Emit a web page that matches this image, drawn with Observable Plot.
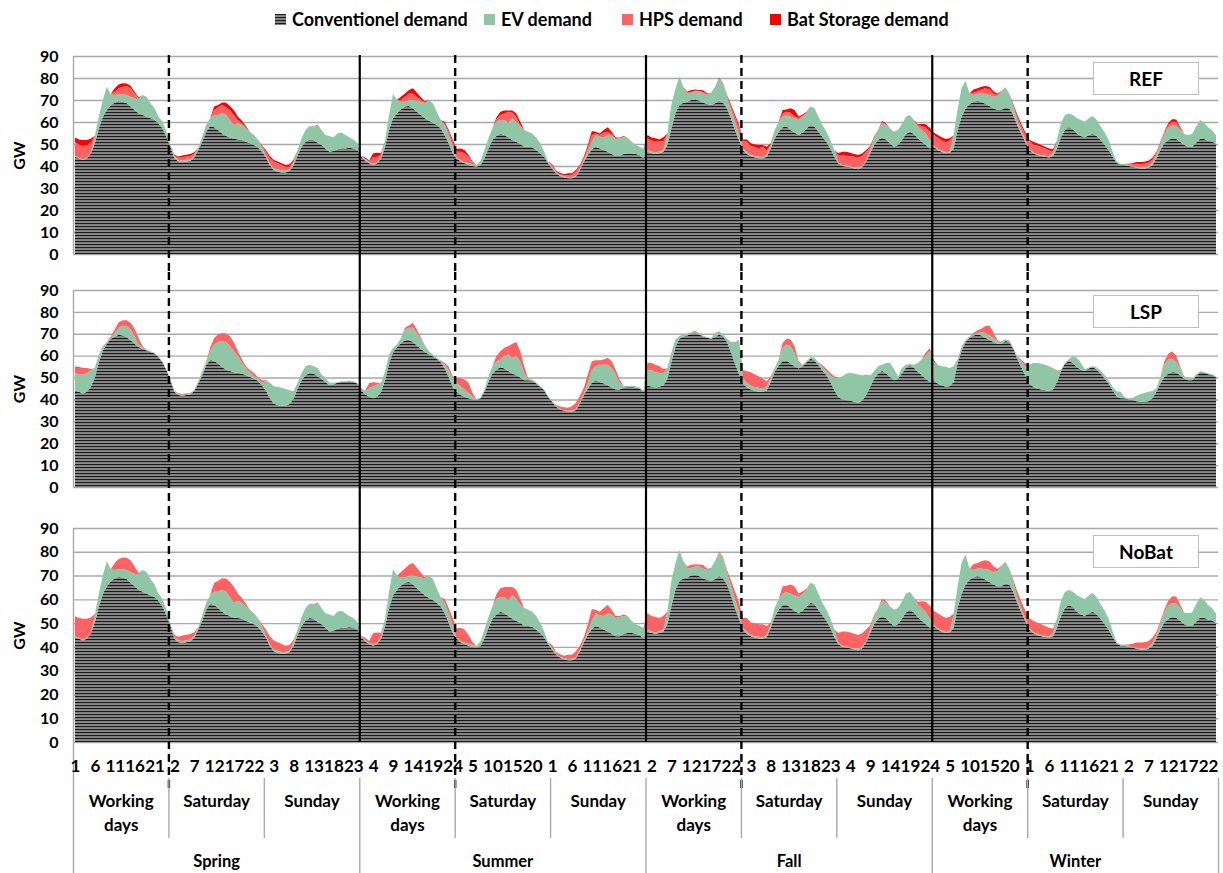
<!DOCTYPE html>
<html>
<head>
<meta charset="utf-8">
<script src="https://cdn.jsdelivr.net/npm/d3@7"></script>
<script src="https://cdn.jsdelivr.net/npm/@observablehq/plot@0.6"></script>
<style>
  body { margin:0; width:1223px; height:873px; position:relative; background:#fff; overflow:hidden;
         font-family: Lato, "Open Sans", "DejaVu Sans", sans-serif; }
  .panel { position:absolute; left:0; }
  .leg { position:absolute; top:8px; font-weight:bold; font-size:18px; color:#000; display:flex; align-items:center; white-space:nowrap; }
  .sw { width:11px; height:11px; margin-right:6px; display:inline-block; }
  .tag { position:absolute; left:1093px; width:106px; height:33px; box-sizing:border-box; border:1.3px solid #bfbfbf;
         background:#fff; font-weight:bold; font-size:19px; display:flex; align-items:center; justify-content:center; }
</style>
</head>
<body>
<svg width="0" height="0" style="position:absolute">
  <defs>
    <pattern id="hatch" patternUnits="userSpaceOnUse" width="8" height="3">
      <rect width="8" height="3" fill="#8a8a8a"></rect>
      <rect width="8" height="1.1" fill="#1a1a1a"></rect>
    </pattern>
  </defs>
</svg>
<div id="legend"></div>
<div id="p1" class="panel" style="top:40px"></div>
<div id="p2" class="panel" style="top:272px"></div>
<div id="p3" class="panel" style="top:507px"></div>
<div id="tags"></div>
<script>
// ---------------- DATA (GW, hourly, 12 representative days) ----------------
const seasons = ["Spring", "Summer", "Fall", "Winter"];
const dayTypes = ["Working days", "Saturday", "Sunday"];
const scenarios = ["REF", "LSP", "NoBat"];
const seriesNames = ["Conventionel demand", "EV demand", "HPS demand", "Bat Storage demand"];
const yTicks = [0, 10, 20, 30, 40, 50, 60, 70, 80, 90];

const conventional = [
  44.2,43.5,42.7,43.5,45.8,50.3,57,62.4,65.5,67.7,68.8,69.5,69.2,68.5,67,65.5,64,63.2,62.4,61.7,61,59.4,57,53.3,
  48.8,43.5,42,41.7,42,42.3,43.9,47.3,51,55.6,58.2,57.6,56.4,54.8,53.6,53,52.4,52.1,51.8,51,50.3,49.5,48.5,46.5,
  44.2,40.5,38.2,37.4,37.1,37.1,37.9,40.5,45,48.8,51,52.1,51.8,50.6,49.5,48,46.5,46.8,47.6,48,48,48.3,48,47.3,
  44.2,42.4,41.2,40.5,41.2,43.5,48.8,56.4,61.7,64,65.8,67,67.3,66.2,64.7,63.2,61.7,60.6,59.7,58.6,57,54.1,50.3,45.8,
  43.5,42,41.2,40.5,40,39.7,40.5,43.5,48,51.8,53.6,54.8,54.1,53,51.8,51,50,48.8,48.8,48.5,47.3,45.8,44.2,41.2,
  38.9,36.7,35.5,34.8,34.4,34.4,35.2,38.2,42,45,47.6,48.8,48,47.3,46.5,45.5,44.5,44.5,45.5,45.8,45.8,45.5,45,43.5,
  46.5,45.8,45.5,45.8,46.5,49.5,57,63.9,67.7,68.8,69.2,70,70.3,69.7,68.8,68.2,67.7,68.5,69.7,68.8,66.2,61.7,56.4,51.8,
  47.3,45.5,44.5,43.9,43.5,43.5,44.2,48,52.6,55.6,57.6,57.9,56.4,55.2,54.1,55.2,57,58.6,57.9,55.6,53.3,51,48,44.2,
  41.2,40,39.7,39.4,38.9,38.5,39.4,42,45.8,49.5,51.8,53,52.1,50.3,48.8,49.5,51.8,54.5,55.6,54.5,52.6,51,49.5,48,
  48.8,47.3,46.5,45.8,46,48,56.4,62.4,66.2,68.2,69.2,69.7,69.2,68.2,67.3,66.2,65.5,65.5,66.7,66.2,63.2,58.6,54.8,51,
  47.3,45.8,45,44.5,44.2,43.9,44.5,48,53,56.4,57.6,56.7,54.8,53.6,53,54.1,54.8,53.6,51.8,49.5,47.3,44.2,41.5,40.5,
  40.5,40,39.7,39.2,38.9,38.9,39.2,40.5,43.5,47.3,50.3,51.8,52.6,52.3,51,49.5,48.8,48.8,50.6,52.4,52.3,51.5,51.2,50
];

const evREF = [
  0.3,0.3,0.3,0.3,0.3,3,5.4,7.6,10.5,4.9,3.5,3.1,3.4,3.8,4.5,5.3,6.3,9.1,9.1,6.8,5.2,3,3.1,2.3,
  0.8,0.8,0.8,0.8,0.8,0.8,0.8,1,2.3,3,3.5,5.6,6.8,9.2,9.6,7.9,6.2,7.3,6.8,6,5.3,4.6,3.6,2.3,
  0.8,0.7,0.7,1.1,0.8,0.8,0.6,1.5,2.3,3.8,5.4,6.1,6.1,7.6,6.9,6.1,7.1,6.2,7.2,7.2,6.1,4.7,4.1,3.3,
  0.5,0.5,0.5,0.5,0.5,0.7,3,6.8,11,6,3.4,2.2,2.7,3.8,5,6,7.1,9.4,8.8,6.1,3.9,4.5,3.8,3,
  0.5,0.5,0.5,0.8,0.9,0.8,1.9,3.8,4.6,5.2,6.5,6.1,6.8,6.7,9.9,9.1,7.9,7.6,6.8,6.3,5.7,4.5,2.3,0.8,
  0.8,0.3,0.3,0.5,0.5,0.6,0.3,0.7,0.7,1.5,3.4,5.3,5.3,5.7,7.6,8.1,7.6,8.1,7.5,7.2,5.2,4,3.8,4.5,
  0.8,0.8,0.6,0.8,0.8,5.3,10.7,11,13,7.2,3.8,3.3,3.5,4.1,4.2,4.1,5.6,7.5,10.1,8.8,5.3,3.8,3.7,3,
  0.7,1,0.5,0.6,0.8,0.5,1,1.5,3.8,4.5,4.8,5.3,6,6.5,6.8,7.2,6.9,8.4,8.3,6.8,5.3,4.6,3.8,3.1,
  0.5,0.5,0.5,0.5,0.5,0.9,0.6,0.5,1.5,3.1,4.6,6.4,6.5,6.4,6.8,6.9,7.3,7.9,7.6,6.4,5.3,5.4,5.3,3.8,
  0.5,0.5,0.5,0.5,0.5,5.5,9,13,12.6,4.8,3.1,3.3,3.8,4.5,5,5.3,6.3,8.3,9.1,6.8,3.8,2.3,1.6,1.1,
  0.5,0.5,0.5,0.5,0.5,0.5,1.4,3.8,6.4,6.8,6.3,6.5,6.9,7.3,7.1,7.6,7.9,7.3,6.1,5.7,4.5,2.3,0.5,0.5,
  0.5,0.5,0.3,0.5,0.5,0.5,0.8,1,1.5,2.5,4.3,5.7,5.9,5.9,5.4,5,5.3,5.7,7.3,8.5,7.5,6.1,5,4
];

const hpsREF = [
  6.4,6,6.1,5.6,4.5,0.5,0,0,0,0,1.5,2.7,3.4,4,3.8,2.2,0.5,0,0,0,0,0,0,0,
  0,0.5,1,1.5,1.5,1.5,1,0,0,0,0,2.3,3.5,3.7,3.5,4.6,4.6,1.5,0.8,0.5,0,0,0,0.5,
  1.5,2.3,3.1,2.7,2.6,1.8,1.2,0.3,0,0,0,0,0,0.3,0,0,0,0,0,0,0,0,0,0,
  0,0.5,0.5,3,2.5,1,0,0,0,0,0.8,2.3,3,3,1.8,1,0,0,0,0,0,0.6,1.5,2.2,
  2.5,4,4.1,2.9,0.6,0,0,0,0,0,1,2.3,3,5,2.5,2.3,0.7,0,0,0,0,0,0,0,
  0.7,0.5,0.5,0.5,1,1,2,1,0.8,2,3.1,0.7,0.8,2.1,1.5,0.9,0.5,0.2,0.4,0,0,0,0,0,
  5.3,5,5,4.5,4,0,0,0,0,0,0.3,0.5,0.5,0.3,0.6,0.3,0,0,0,0.3,0.5,1.5,2.3,3,
  3.6,4.5,4.1,4.1,3.7,4.8,1.7,0.5,0,0,1.5,1.5,1.8,1,0.8,0.5,0.3,0,0,0,0,0,0,0,
  3.3,4.5,4.5,4.6,4.8,4.5,4.5,4,1.2,0.5,0,0.5,0.5,0.3,0,0,0,0,0,0,0.6,1.8,2.7,3.8,
  4.8,5,4.7,4.5,5,0.5,0,0,0,0,1,1.2,1.8,2.6,2.5,1.5,0.5,0.3,0,0,0.7,1.5,1.8,2.3,
  3.9,3.5,3.8,3.6,3.3,2.6,0.7,0,0,0,0,0,0,0,0,0,0,0,0,0,0,0,0,0,
  0,0.3,0.8,1.3,1.5,1.6,1.5,1.5,0.8,0.5,0.5,1.2,1.6,1.8,0.8,0,0,0,0,0,0,0,0,0
];

const batREF = [
  2,2.3,2.7,2.4,1.8,0,0,0,0,0,1.5,1.7,1.6,1.2,1.1,0.8,0.3,0,0,0,0,0,0,0,
  0,0.3,0.5,0.8,0.8,0.8,0.5,0,0,0,0,1.5,1,1.2,2.1,1.8,2,1.5,1.2,0.6,0,0,0,0.3,
  0.8,1,0.7,0.8,0.7,0.8,1.1,0.7,0,0,0,0,0,0.3,0,0,0,0,0,0,0,0,0,0,
  0,0.5,0.3,1.8,1.8,0.6,0,0,0,0,1.5,1.5,1.5,2.3,1.8,1,0.5,0,0,0,0,0.9,0.8,1.1,
  1.2,1.5,1.5,0.8,0.4,0,0,0,0,0,1,1.5,1.3,0.5,1,1.5,1.5,0,0,0,0,0,0,0,
  0.5,0.3,0.6,0.5,0.8,0.7,0.7,0.6,0.7,1,1.8,0.8,0.7,1.3,2,1.1,0.4,0.2,0.2,0,0,0,0,0,
  1.5,1.4,1.5,1,1.8,0,0,0,0,0,0.5,0.7,0.5,0.5,0.8,0.3,0,0,0.3,0,0.3,1,1,1.2,
  0.5,1.1,1.2,1.2,1.5,0.7,1.9,0.3,0,0,1.6,1,2,2.7,0.8,0.5,0.3,0,0,0,0,0,0,0,
  0.8,1.5,1.8,1.5,1.3,1.1,1.2,0.8,0.5,0.3,0,0.5,0.3,0,0,0,0,0,0,0,0.5,1,1.5,1.8,
  1.1,1.3,1.4,1.5,1.1,0,0,0,0,0,1.5,1.1,1.2,1.1,1.2,1,0.5,0,0,0,0.5,1,1,1,
  0.4,1.2,1,0.9,0.8,1,1,0,0,0,0,0,0,0,0,0,0,0,0,0,0,0,0,0,
  0,0.2,0.5,0.8,0.9,0.9,0.9,0.8,0.5,0.5,0.5,0.8,1.2,1.1,0.5,0,0,0,0,0,0,0,0,0
];

const evLSP = [
  8,7.9,8.7,8.6,7.5,4.1,3.5,1.9,0.7,0.5,1.6,3.2,4.6,5,4.9,3.4,1.1,0.4,0.4,0.3,0.3,0.2,0.2,0.2,
  0.5,0.5,0.5,0.5,0.5,0.5,0.5,1,1.9,1.9,3.8,7.5,9.8,11.8,12.6,11.3,9.6,7.7,4.9,3.4,2.1,1.1,1.3,1.1,
  4.1,7.1,7.8,8.3,8.2,7.7,6.3,3.2,2.6,3.3,4.2,3.8,3.4,3.8,1.9,1.8,1.1,0.8,0.3,0.3,0.3,0.3,0.3,0.2,
  1,1.3,4,5.5,5.6,4.1,4.1,4.1,1.9,1.1,2.3,4.9,5.4,6.5,5.7,4.2,2.6,1.4,0.8,0.4,0.5,1.8,3.3,4,
  4.1,4,3.3,2.5,1.5,0.5,0.3,1,2.6,3.4,3.9,3.4,5.7,7.5,7.2,8.8,7.5,3.2,0.5,0.5,0.5,0.3,0.3,0.3,
  0.3,0.3,0.3,0.3,0.3,0.5,0.5,0.6,0.9,2.6,6,6.4,7.9,8.6,9.4,8.9,6.9,3.1,0.5,0.3,0.5,0.5,0.5,0.5,
  6.8,7.5,6.9,6.3,5.6,4.4,4.3,3.5,1.2,0.9,0.9,0.7,0.9,0.7,0.3,0.3,0.3,1.9,1.5,0.9,1.5,4.5,9.8,15,
  2.5,2.1,1.8,1.8,1.8,1.3,1.8,1.8,1.8,2.6,6,7.2,7.9,6.1,2.6,0.5,0.5,0.8,1.2,1.3,1.5,1.9,2.9,5.6,
  8.6,10.6,12.1,12.7,12.9,12.9,11.5,9.4,5.1,3.4,3.4,2.9,4.6,6.4,5.1,1,2.6,1.4,0.6,1.4,4.1,7.5,10.5,14,
  8.1,8.6,8.7,9.1,8.4,7.2,1.8,1.9,0.8,0.5,0.5,0.7,1.5,2.2,1.9,1.9,1.1,1.1,0.7,0.8,0.4,1.2,2.7,4.2,
  8.6,10.9,11.7,11.8,11.7,11.3,9.9,4.9,0.5,0.3,0.9,3.1,4.2,3.1,0.9,0.5,0.5,1,1.3,1.5,1.2,1.5,2.2,3,
  0.5,0.6,1,2.5,3.5,4,4.3,3.4,1.5,3,5.5,6.5,5.9,4.9,3.1,1.2,0.5,0.5,0.8,0.5,0.4,0.4,0.4,0.5
];

const hpsLSP = [
  2.5,3,2.7,2.3,0.6,0,0,0,0,0.5,1.5,2.6,2.4,2.7,3.1,3.4,3,0.6,0,0,0,0,0,0,
  0,0,0.3,0.3,0.3,0.3,0,0,0,0,1.6,3,3.5,3.8,3.9,4.6,3.9,2.2,1.5,0.8,1,1.5,0.5,1.2,
  0.5,0,0,0,0,0,0,0,0,0,0,0,0,0,0,0,0,0,0,0,0,0,0,0,
  0,0.3,2.3,1.9,0.8,0,0,0,0,0,0,0.8,1.1,2.2,1.5,0.8,0.3,0,0,0,0.3,0.8,1.5,0.8,
  2.2,3.8,4.6,4.6,1.5,0,0,0,0,0,2.3,3.8,3.8,3.8,6.5,6.4,4.5,3,0.3,0,0,0,0,0,
  0,0.5,1,1.3,1.5,2,2.8,2.8,2.4,3.8,3.9,2.7,2,2.3,3.1,3.1,2.2,1.5,0,0,0,0,0,0,
  3.6,3.3,3.5,3.1,1.8,0.3,0,0,0,0,0,0,0.3,0,0,0,0,0,0,0,0,0,0,0.5,
  3.5,5.3,6.1,5.7,5.3,4.6,2.3,0.8,0,0,2.3,2.6,3.1,3,0.8,0,0,0,0,0,0.8,1,1.2,0.8,
  0,0,0,0,0,0,0,0,0,0,0,0,0,0,0,0,0,0,0,0,0,0,0.9,0.8,
  0.5,0,0,0,0,0,0,0,0,0,0.7,1.2,1.6,3.1,4.6,2.6,0.5,0,0,0,0,0,0.8,1.3,
  0,0,0,0,0,0,0,0.3,0,0,0,0,0,0,0,0,0,0,0,0,0,0,0,0,
  0,0,0,0,0,0,0,0,0,0,1.5,2.6,3.1,2.2,0.8,0,0,0,0,0,0,0,0,0
];

const batLSP = [
  0.3,0.3,0.3,0,0,0,0,0,0,0,0,0,0,0,0,0,0,0,0,0,0,0,0,0,
  0,0,0,0,0,0,0,0,0,0,0,0,0,0,0,0,0,0,0,0,0,0,0,0,
  0,0,0,0,0,0,0,0,0,0,0,0,0,0,0,0,0,0,0,0,0,0,0,0,
  0,0,0,0,0,0,0,0,0,0,0,0,0,0,0,0,0,0,0,0,0,0,0,0,
  0,0,0,0,0,0,0,0,0,0,0,0,0,0,0,0,0,0,0,0,0,0,0,0,
  0,0,0,0,0,0,0,0,0,0,0,0,0,0,0,0,0,0,0,0,0,0,0,0,
  0,0,0,0,0,0,0,0,0,0,0,0,0,0,0,0,0,0,0,0,0,0,0,0,
  0,0,0,0,0,0,0,0,0,0,0,0,0,0,0,0,0,0,0,0,0,0,0,0,
  0,0,0,0,0,0,0,0,0,0,0,0,0,0,0,0,0,0,0,0,0,0,0.3,0.5,
  0.5,0,0,0,0,0,0,0,0,0,0,0,0,0,0,0,0,0,0,0,0,0,0,0,
  0,0,0,0,0,0,0,0,0,0,0,0,0,0,0,0,0,0,0,0,0,0,0,0,
  0,0,0,0,0,0,0,0,0,0,0,0,0.3,0.3,0,0,0,0,0,0,0,0,0,0
];

const evNoBat = evREF; // EV profile in the NoBat case reads the same as in REF

const hpsNoBat = [
  8.4,8.3,8.8,8,6.3,0.5,0,0,0,0,3,4.4,5,5.2,4.9,3,0.8,0,0,0,0,0,0,0,
  0,0.8,1.5,2.3,2.3,2.3,1.5,0,0,0,0,3.8,4.5,4.9,5.6,6.4,6.6,3,2,1.1,0,0,0,0.8,
  2.3,3.3,3.8,3.5,3.3,2.6,2.3,1,0,0,0,0,0,0.6,0,0,0,0,0,0,0,0,0,0,
  0,1,0.8,4.8,4.3,1.6,0,0,0,0,2.3,3.8,4.5,5.3,3.6,2,0.5,0,0,0,0,1.5,2.3,3.3,
  3.7,5.5,5.6,3.7,1,0,0,0,0,0,2,3.8,4.3,5.5,3.5,3.8,2.2,0,0,0,0,0,0,0,
  1.2,0.8,1.1,1,1.8,1.7,2.7,1.6,1.5,3,4.9,1.5,1.5,3.4,3.5,2,0.9,0.4,0.6,0,0,0,0,0,
  6.8,6.4,6.5,5.5,5.8,0,0,0,0,0,0.8,1.2,1,0.8,1.4,0.6,0,0,0.3,0.3,0.8,2.5,3.3,4.2,
  4.1,5.6,5.3,5.3,5.2,5.5,3.6,0.8,0,0,3.1,2.5,3.8,3.7,1.6,1,0.6,0,0,0,0,0,0,0,
  4.1,6,6.3,6.1,6.1,5.6,5.7,4.8,1.7,0.8,0,1,0.8,0.3,0,0,0,0,0,0,1.1,2.8,4.2,5.6,
  5.9,6.3,6.1,6,6.1,0.5,0,0,0,0,2.5,2.3,3,3.7,3.7,2.5,1,0.3,0,0,1.2,2.5,2.8,3.3,
  4.3,4.7,4.8,4.5,4.1,3.6,1.7,0,0,0,0,0,0,0,0,0,0,0,0,0,0,0,0,0,
  0,0.5,1.3,2.1,2.4,2.5,2.4,2.3,1.3,1,1,2,2.8,2.9,1.3,0,0,0,0,0,0,0,0,0
];

// ---------------- STYLE ----------------
const FONT = "Lato, 'Open Sans', 'DejaVu Sans', sans-serif";
const fills = ["url(#hatch)", "#8fc6a6", "#ff6262", "#ff0000"];
const gridColor = "#a9a9a9";

const nHours = seasons.length * dayTypes.length * 24;
for (const [n, a] of Object.entries({conventional, evREF, hpsREF, batREF, evLSP, hpsLSP, batLSP, hpsNoBat}))
  if (a.length !== nHours) throw new Error(n + " has " + a.length + " values");

// day / season structure
const days = seasons.flatMap((s, si) => dayTypes.map((d, di) => ({season: s, day: d, start: (si * dayTypes.length + di) * 24})));
const seasonStarts = seasons.map((s, si) => si * dayTypes.length * 24);
const seasonBounds = seasonStarts.slice(1);                       // solid lines
const weekendBounds = days.filter(d => d.day === "Saturday").map(d => d.start);   // dashed lines
const dayBounds = days.filter(d => d.day !== "Working days").map(d => d.start);   // table separators
const tableEdges = [...seasonStarts, nHours];
const hourTicks = d3.range(0, nHours, 5);

function rowsFor(cols) {
  const rows = [];
  cols.forEach(([name, arr]) => arr.forEach((v, i) => rows.push({pos: i + 0.5, series: name, value: v})));
  return rows;
}
const panelRows = {
  REF: rowsFor([[seriesNames[0], conventional], [seriesNames[1], evREF], [seriesNames[2], hpsREF], [seriesNames[3], batREF]]),
  LSP: rowsFor([[seriesNames[0], conventional], [seriesNames[1], evLSP], [seriesNames[2], hpsLSP], [seriesNames[3], batLSP]]),
  NoBat: rowsFor([[seriesNames[0], conventional], [seriesNames[1], evNoBat], [seriesNames[2], hpsNoBat]])
};

function panel(name, {height, mt, mb, top, bottom}) {
  const plotH = height - mt - mb;
  const marks = [
    Plot.gridY(yTicks, {stroke: gridColor, strokeOpacity: 1, strokeWidth: 1.4}),
    Plot.ruleX([0], {stroke: gridColor, strokeWidth: 1.4, insetBottom: bottom ? -mb : 0}),
    Plot.areaY(panelRows[name], {x: "pos", y: "value", fill: "series", order: seriesNames, curve: "linear"}),
    Plot.ruleX(seasonBounds, {stroke: "#000", strokeWidth: 2.2, insetTop: top ? -1 : -mt, insetBottom: bottom ? 0 : -mb}),
    Plot.ruleX(weekendBounds, {stroke: "#000", strokeWidth: 2.4, strokeDasharray: "8,5", insetTop: top ? -1 : -mt, insetBottom: bottom ? -46 : -mb}),
    Plot.axisY(yTicks, {tickSize: 0, tickPadding: 15, fontSize: 16, fontWeight: "bold", fill: "#000",
      label: "GW", labelAnchor: "center", labelArrow: "none", labelOffset: 60})
  ];
  if (bottom) {
    marks.push(
      Plot.axisX(hourTicks.map(h => h + 0.5), {tickSize: 0, tickPadding: 17, fontSize: 17, fontWeight: "bold", fill: "#000",
        tickFormat: d => String((d - 0.5) % 24 + 1), label: null}),
      Plot.ruleX(dayBounds, {stroke: gridColor, strokeWidth: 1.4, insetTop: plotH + 36, insetBottom: -96}),
      Plot.ruleX(tableEdges.slice(1), {stroke: gridColor, strokeWidth: 1.4, insetTop: plotH + 36, insetBottom: -mb}),
      Plot.text(days, {x: d => d.start + 12, text: d => d.day.split(" ")[0], frameAnchor: "bottom", dy: 64,
        fontSize: 17, fontWeight: "bold", fill: "#000"}),
      Plot.text(days, {x: d => d.start + 12, text: d => d.day.split(" ")[1] || "", frameAnchor: "bottom", dy: 88,
        fontSize: 17, fontWeight: "bold", fill: "#000"}),
      Plot.text(seasons, {x: (s, i) => seasonStarts[i] + 36, text: s => s, frameAnchor: "bottom", dy: 124,
        fontSize: 16.5, fontWeight: "bold", fill: "#000"})
    );
  }
  return Plot.plot({
    width: 1223, height, marginLeft: 73, marginRight: 5, marginTop: mt, marginBottom: mb,
    x: {domain: [0, nHours], axis: null},
    y: {domain: [0, 90], axis: null},
    color: {domain: seriesNames, range: fills},
    style: {fontFamily: FONT, background: "transparent", overflow: "visible", color: "#000"},
    marks
  });
}

document.getElementById("p1").append(panel("REF", {height: 232, mt: 16, mb: 18, top: true}));
document.getElementById("p2").append(panel("LSP", {height: 235, mt: 18, mb: 20}));
document.getElementById("p3").append(panel("NoBat", {height: 366, mt: 21, mb: 131, bottom: true}));

// legend
const legendLeft = [275, 484, 622, 770];
const legend = document.getElementById("legend");
seriesNames.forEach((s, i) => {
  const item = document.createElement("div");
  item.className = "leg";
  item.style.left = legendLeft[i] + "px";
  item.innerHTML = `<svg class="sw" width="11" height="11"><rect width="11" height="11" fill="${fills[i]}"></rect></svg>${s}`;
  legend.append(item);
});

// scenario tags
const tagTop = [62, 295, 535];
const tags = document.getElementById("tags");
scenarios.forEach((s, i) => {
  const t = document.createElement("div");
  t.className = "tag";
  t.style.top = tagTop[i] + "px";
  t.textContent = s;
  tags.append(t);
});
</script>
</body>
</html>
